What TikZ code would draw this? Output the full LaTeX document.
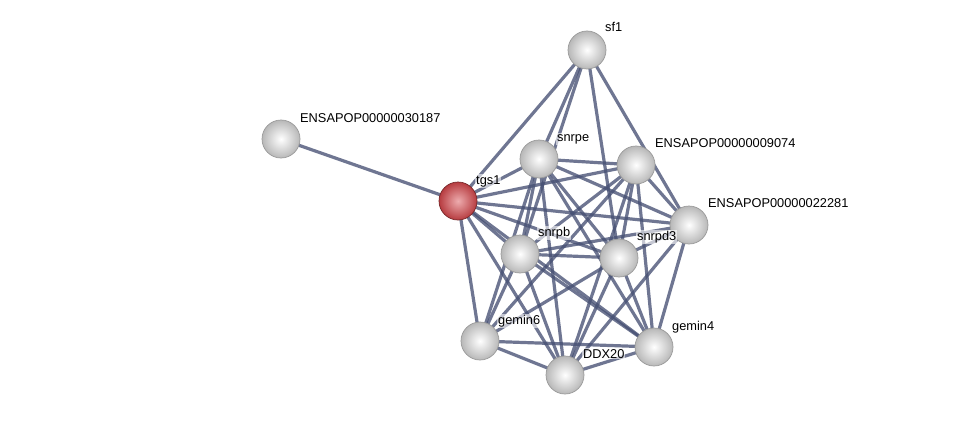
\documentclass[tikz,border=0pt]{standalone}
\usepackage{fontspec}
\setmainfont{Liberation Sans}
\usetikzlibrary{backgrounds}

\definecolor{edgeblue}{RGB}{70,80,115}
\definecolor{protred}{RGB}{215,70,75}

\tikzset{
  prot/.style={circle, minimum size=38pt, inner sep=0pt, draw=black!40, line width=.7pt,
               inner color=white, outer color=black!28},
  seed/.style={prot, inner color=protred!45!white, outer color=protred!85!black, draw=protred!55!black},
  link/.style={draw=edgeblue, line width=3.2pt, opacity=.78},
  tag/.style={anchor=base west, font=\fontsize{12.8}{14}\selectfont, inner sep=1pt, fill=white, fill opacity=.6, text opacity=1}
}

\begin{document}
\begin{tikzpicture}[x=1pt, y=-1pt]
             \useasboundingbox (0,0) rectangle (976,420);

             % proteins
             \node[prot] (sf1) at (587, 50) {};
             \node[prot] (e30187) at (281, 139) {};
             \node[prot] (snrpe) at (539, 159) {};
             \node[prot] (e9074) at (636, 165) {};
             \node[seed] (tgs1) at (458, 201) {};
             \node[prot] (e22281) at (689, 225) {};
             \node[prot] (snrpb) at (520, 254) {};
             \node[prot] (snrpd3) at (619, 258) {};
             \node[prot] (gemin6) at (480, 341) {};
             \node[prot] (gemin4) at (654, 347) {};
             \node[prot] (ddx20) at (565, 375) {};

             % labels
             \node[tag] (lsf1) at ([shift={(17,-18)}]sf1.center) {sf1};
             \node[tag] (l30187) at ([shift={(18,-17)}]e30187.center) {ENSAPOP00000030187};
             \node[tag] (lsnrpe) at ([shift={(17,-18)}]snrpe.center) {snrpe};
             \node[tag] (l9074) at ([shift={(18,-18)}]e9074.center) {ENSAPOP00000009074};
             \node[tag] (ltgs1) at ([shift={(17,-17)}]tgs1.center) {tgs1};
             \node[tag] (l22281) at ([shift={(18,-18)}]e22281.center) {ENSAPOP00000022281};
             \node[tag] (lsnrpb) at ([shift={(17,-18)}]snrpb.center) {snrpb};
             \node[tag] (lsnrpd3) at ([shift={(17,-18)}]snrpd3.center) {snrpd3};
             \node[tag] (lgemin6) at ([shift={(17,-17)}]gemin6.center) {gemin6};
             \node[tag] (lgemin4) at ([shift={(17,-17)}]gemin4.center) {gemin4};
             \node[tag] (lddx20) at ([shift={(17,-17)}]ddx20.center) {DDX20};

             % interactions
             \begin{pgfonlayer}{background}
             \foreach \a/\b in {e30187/tgs1, tgs1/sf1, tgs1/snrpe, tgs1/e9074, tgs1/e22281,
                     tgs1/snrpb, tgs1/snrpd3, tgs1/gemin6, tgs1/ddx20, tgs1/gemin4,
                     sf1/snrpe, sf1/snrpb, sf1/snrpd3, sf1/e22281,
                     snrpe/e9074, snrpe/e22281, snrpe/snrpb, snrpe/snrpd3, snrpe/gemin6,
                     snrpe/ddx20, snrpe/gemin4,
                     e9074/snrpb, e9074/snrpd3, e9074/e22281, e9074/gemin6, e9074/ddx20,
                     e9074/gemin4,
                     e22281/snrpb, e22281/snrpd3, e22281/ddx20, e22281/gemin4,
                     snrpb/snrpd3, snrpb/gemin6, snrpb/ddx20, snrpb/gemin4,
                     snrpd3/gemin6, snrpd3/ddx20, snrpd3/gemin4,
                     gemin6/ddx20, gemin6/gemin4, ddx20/gemin4}
                 \draw[link] (\a.center) -- (\b.center);
             \end{pgfonlayer}
\end{tikzpicture}
\end{document}
